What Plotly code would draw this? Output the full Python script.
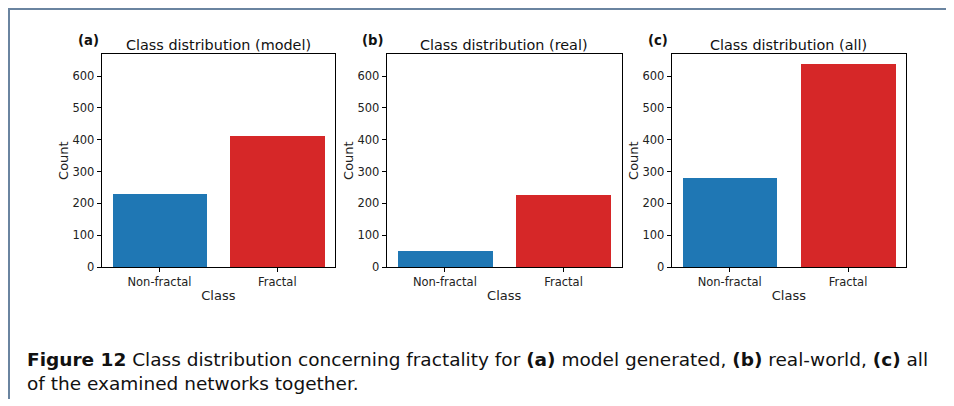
import plotly.graph_objects as go

categories = ["Non-fractal", "Fractal"]
model_counts = [229, 411]
real_counts = [51, 226]
all_counts = [280, 637]
panel_titles = ["Class distribution (model)", "Class distribution (real)", "Class distribution (all)"]
panel_letters = ["(a)", "(b)", "(c)"]
bar_colors = ["#1f77b4", "#d62728"]
y_ticks = [0, 100, 200, 300, 400, 500, 600]

# the page body has an 8px margin; the figure is sized to fill the rest of the window
OFF = 8
W, H = 954 - OFF, 406 - OFF


def px(x):
    return (x - OFF) / W


def py(y):
    return 1 - (y - OFF) / H


fig = go.Figure()

x_doms = [(101.7, 335.0), (386.7, 621.7), (671.7, 906.0)]
y_top, y_bot = 55.0, 271.7
series = [model_counts, real_counts, all_counts]
font = "DejaVu Sans"

for i, (vals, (xl, xr)) in enumerate(zip(series, x_doms)):
    n = "" if i == 0 else str(i + 1)
    fig.add_trace(go.Bar(x=[0, 1], y=vals, width=0.8, marker=dict(color=bar_colors, line=dict(width=0)),
                         xaxis="x" + n, yaxis="y" + n, showlegend=False))
    axis_common = dict(showline=True, mirror=True, linecolor="black", linewidth=1.1,
                       ticks="outside", ticklen=4, tickwidth=1, tickcolor="black",
                       showgrid=False, zeroline=False,
                       tickfont=dict(family=font, size=11.5, color="#222"))
    fig.update_layout(**{
        "xaxis" + n: dict(domain=[px(xl), px(xr)], anchor="y" + n, range=[-0.49, 1.49],
                          tickvals=[0, 1], ticktext=categories,
                          title=dict(text="Class", font=dict(family=font, size=13, color="#222"), standoff=2),
                          **axis_common),
        "yaxis" + n: dict(domain=[py(y_bot), py(y_top)], anchor="x" + n, range=[0, 669],
                          tickvals=y_ticks,
                          title=dict(text="Count", font=dict(family=font, size=13, color="#222"), standoff=0),
                          **axis_common),
    })
    fig.add_annotation(x=px((xl + xr) / 2), y=py(46), xref="paper", yref="paper",
                       text=panel_titles[i], showarrow=False, xanchor="center", yanchor="middle",
                       font=dict(family=font, size=14.4, color="#111"))
    fig.add_annotation(x=px(xl - 13.5), y=py(41), xref="paper", yref="paper",
                       text="<b>" + panel_letters[i] + "</b>", showarrow=False, xanchor="center", yanchor="middle",
                       font=dict(family=font, size=13.2, color="#111"))

# frame lines (top and left)
fig.add_shape(type="line", xref="paper", yref="paper", x0=px(8), x1=1, y0=py(9), y1=py(9),
              line=dict(color="#6a84a0", width=2))
fig.add_shape(type="line", xref="paper", yref="paper", x0=px(9), x1=px(9), y0=0, y1=py(8),
              line=dict(color="#6a84a0", width=2))

cap_font = dict(family="DejaVu Sans", size=18.5, color="#111")
fig.add_annotation(x=px(25), y=py(378), xref="paper", yref="paper", showarrow=False,
                   xanchor="left", yanchor="middle", align="left", font=cap_font,
                   text="<b>Figure 12</b> Class distribution concerning fractality for <b>(a)</b> model generated, "
                        "<b>(b)</b> real-world, <b>(c)</b> all<br>of the examined networks together.")

fig.update_layout(width=W, height=H, margin=dict(l=0, r=0, t=0, b=0),
                  paper_bgcolor="white", plot_bgcolor="white", bargap=0)

fig.write_html("out.html")
